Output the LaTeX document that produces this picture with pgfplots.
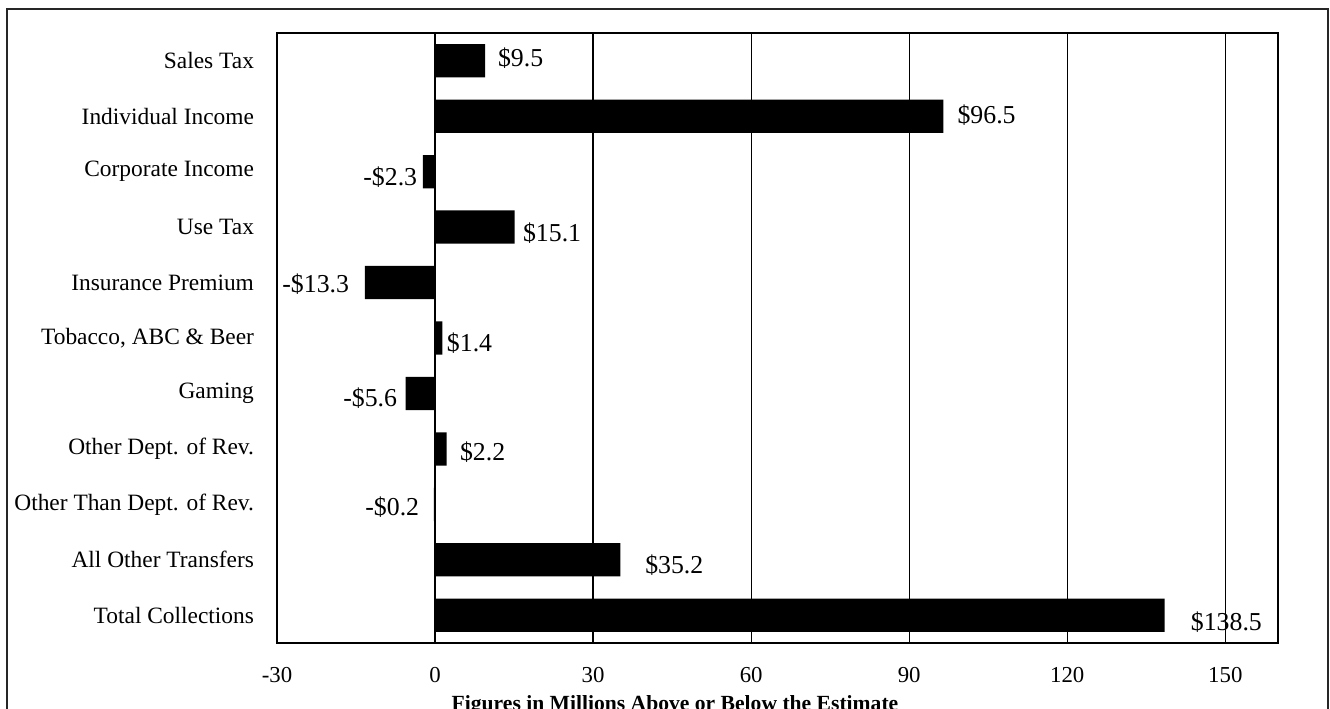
\documentclass[border=0pt]{standalone}
\usepackage{pgfplots}
\pgfplotsset{compat=1.18}
\usepackage{fontspec}
\setmainfont{Liberation Serif}
\begin{document}
\begin{tikzpicture}
\useasboundingbox (0,0) rectangle (665pt,354pt);
\draw[line width=0.75pt, black!85] (3.5pt,-10pt) rectangle (664pt,349.5pt);
\begin{axis}[
  at={(138.5pt,32.5pt)}, anchor=south west,
  scale only axis, width=500.5pt, height=305pt,
  xmin=-30, xmax=160, ymin=-0.5, ymax=10.5,
  y dir=reverse,
  axis line style={line width=0.75pt, black},
  xtick={-30,0,30,60,90,120,150},
  xticklabels={-30,0,30,60,90,120,150},
  ytick={0,1,2,3,4,5,6,7,8,9,10},
  yticklabels={Sales Tax, Individual Income, Corporate Income, Use Tax, Insurance Premium, {Tobacco, ABC \& Beer}, Gaming, Other Dept. of Rev., Other Than Dept. of Rev., All Other Transfers, Total Collections},
  major tick length=0pt,
  xmajorgrids, major grid style={line width=0.65pt, black},
  xticklabel style={font=\fontsize{11.4}{13}\selectfont, yshift=-8.5pt},
  yticklabel style={font=\fontsize{11.7}{14}\selectfont, xshift=-8pt},
  clip=false,
]
\addplot[xbar, fill=black, draw=none, bar width=0.6] coordinates {
  (9.5,0) (96.5,1) (-2.3,2) (15.1,3) (-13.3,4) (1.4,5) (-5.6,6) (2.2,7) (-0.2,8) (35.2,9) (138.5,10)
};
\begin{scope}[every node/.style={font=\fontsize{12.9}{15}\selectfont, inner sep=0pt}]
\node[anchor=west] at (axis cs:11.88,-0.05) {\$9.5};
\node[anchor=west] at (axis cs:99.1,0.98) {\$96.5};
\node[anchor=east] at (axis cs:-3.33,2.10) {-\$2.3};
\node[anchor=west] at (axis cs:16.63,3.11) {\$15.1};
\node[anchor=east] at (axis cs:-16.25,4.03) {-\$13.3};
\node[anchor=west] at (axis cs:2.19,5.09) {\$1.4};
\node[anchor=east] at (axis cs:-7.13,6.08) {-\$5.6};
\node[anchor=west] at (axis cs:4.66,7.06) {\$2.2};
\node[anchor=east] at (axis cs:-2.95,8.05) {-\$0.2};
\node[anchor=west] at (axis cs:39.83,9.09) {\$35.2};
\node[anchor=west] at (axis cs:143.4,10.12) {\$138.5};
\end{scope}
\end{axis}
\node[anchor=base, font=\bfseries\fontsize{10.8}{13}\selectfont] at (337.5pt,-1.5pt) {Figures in Millions Above or Below the Estimate};
\end{tikzpicture}
\end{document}
